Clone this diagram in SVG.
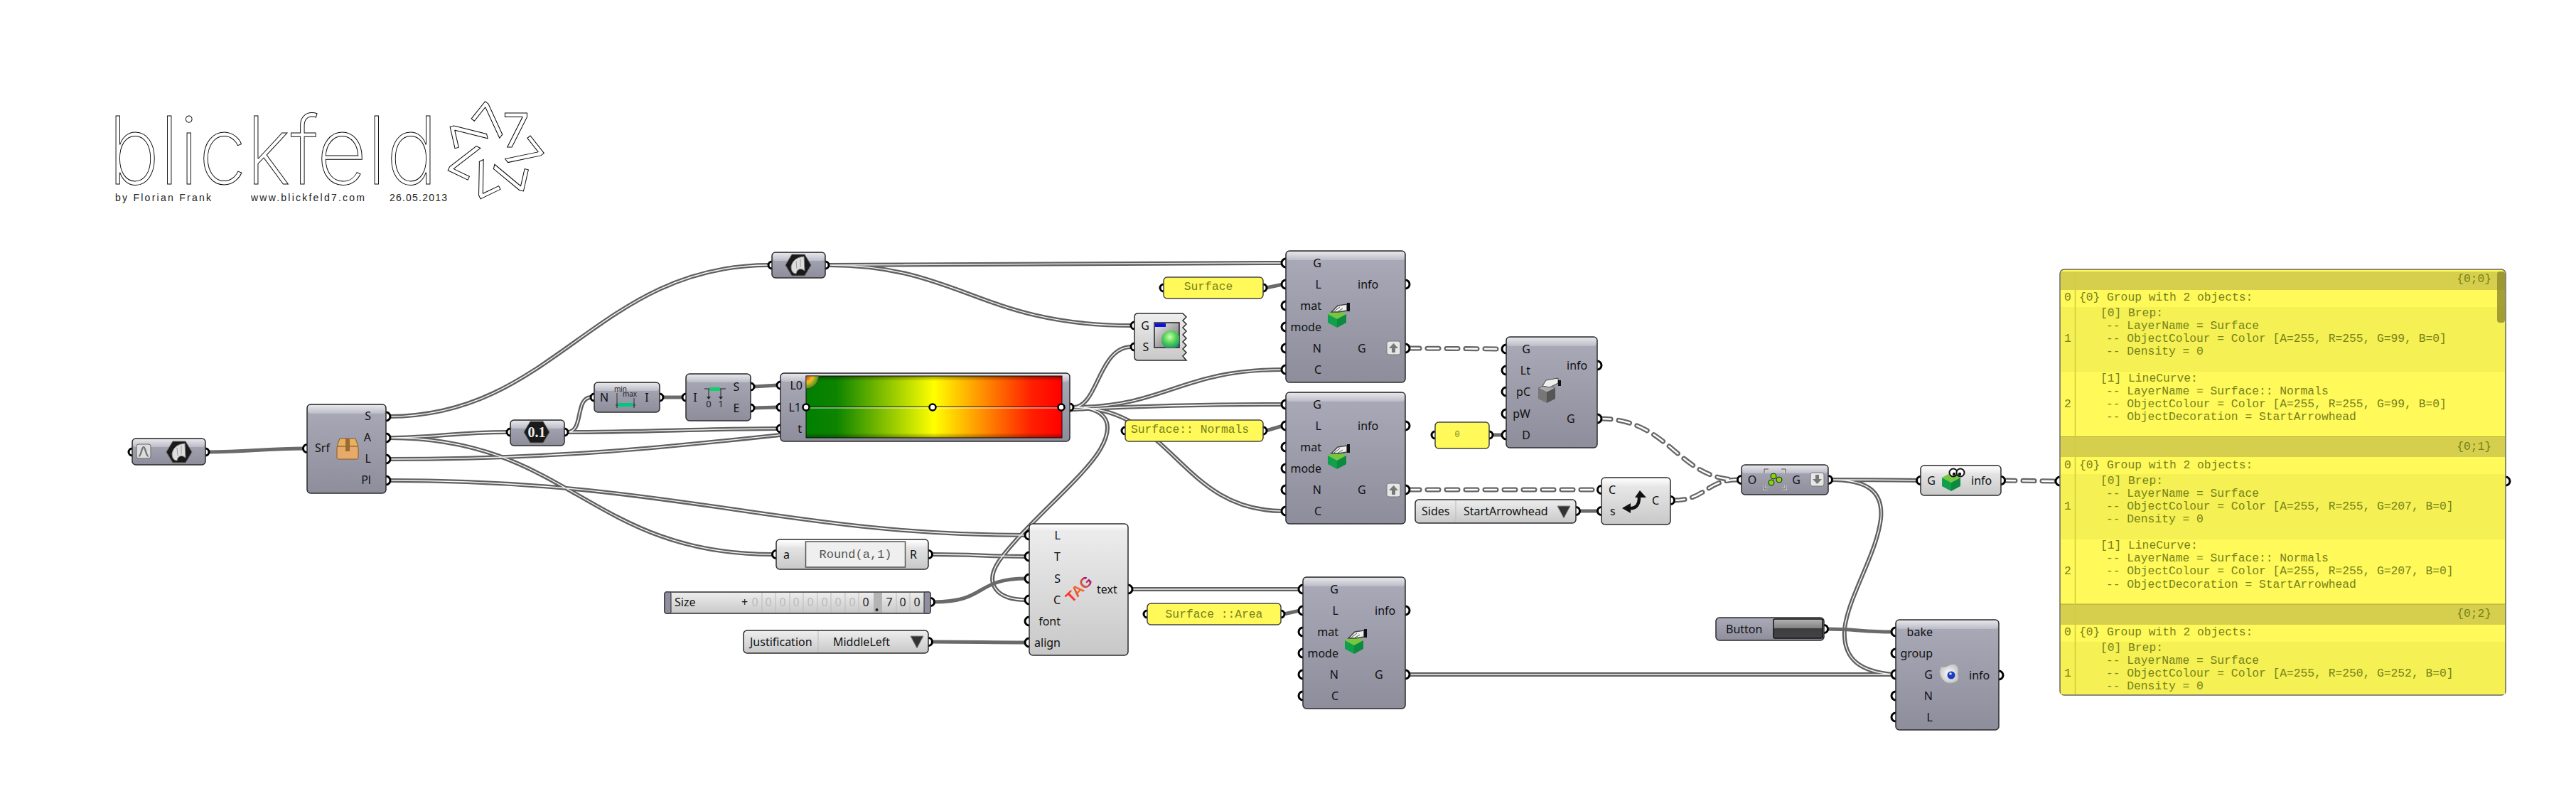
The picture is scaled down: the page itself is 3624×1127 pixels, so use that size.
<svg xmlns="http://www.w3.org/2000/svg" width="3624" height="1127" viewBox="0 0 3624 1127">
<style>
text{font-family:"Noto Sans","Liberation Sans",sans-serif}
.n{fill:url(#dk);stroke:#2c2c2c;stroke-width:1.5}
.l{fill:url(#lt);stroke:#2c2c2c;stroke-width:1.5}
.y{fill:#fff95a;stroke:#444;stroke-width:1.5}
.bd{fill:url(#bd)}
.bl{fill:url(#bl)}
.p{fill:#fff;stroke:#000;stroke-width:3}
.t{font-size:16px;fill:#111;text-anchor:end}
.s{font-size:16px;fill:#111}
.c{font-size:16px;fill:#111;text-anchor:middle}
.m{font-family:"Liberation Mono",monospace;font-size:16.3px;fill:#76821a}
.mm{font-family:"Liberation Mono",monospace;font-size:16.3px;fill:#76821a;text-anchor:middle}
.lg{font-family:Inter,"Liberation Sans",sans-serif;font-weight:200;fill:#fff;stroke:#000;stroke-width:1}
.sv{font-family:Inter,"Liberation Sans",sans-serif;font-weight:400;font-size:66px;fill:#fff;stroke:#000;stroke-width:1;text-anchor:middle}
.by{font-family:"Liberation Sans",sans-serif;font-size:14px;fill:#222}
.g0{font-size:16px;fill:#bbb;text-anchor:middle}
.g1{font-size:16px;fill:#222;text-anchor:middle}
.sep{stroke:#bbb;stroke-width:1}
#dbl,#sgl,#dsh{fill:none;stroke-linecap:butt}
</style>
<defs>
<linearGradient id="dk" x1="0" y1="0" x2="0" y2="1"><stop offset="0" stop-color="#aaaab8"/><stop offset="1" stop-color="#8d8d9b"/></linearGradient>
<linearGradient id="lt" x1="0" y1="0" x2="0" y2="1"><stop offset="0" stop-color="#eeeeee"/><stop offset="1" stop-color="#c8c8c8"/></linearGradient>
<linearGradient id="bd" x1="0" y1="0" x2="0" y2="1"><stop offset="0" stop-color="#e6e6ea"/><stop offset="1" stop-color="#bcbcc8"/></linearGradient>
<linearGradient id="bl" x1="0" y1="0" x2="0" y2="1"><stop offset="0" stop-color="#ffffff"/><stop offset="1" stop-color="#e8e8e8"/></linearGradient>
<linearGradient id="rg" x1="0" y1="0" x2="1" y2="0"><stop offset="0" stop-color="#007f00"/><stop offset=".12" stop-color="#0d8400"/><stop offset=".5" stop-color="#ffff00"/><stop offset=".88" stop-color="#ff2000"/><stop offset="1" stop-color="#ff0000"/></linearGradient>
<linearGradient id="vg" x1="0" y1="0" x2="0" y2="1"><stop offset="0" stop-color="#000" stop-opacity=".4"/><stop offset=".08" stop-color="#000" stop-opacity="0"/><stop offset=".92" stop-color="#000" stop-opacity="0"/><stop offset="1" stop-color="#000" stop-opacity=".35"/></linearGradient>
<linearGradient id="tg" x1="0" y1="0" x2="1" y2="0"><stop offset="0" stop-color="#ff2030"/><stop offset=".55" stop-color="#f07030"/><stop offset="1" stop-color="#a0107a"/></linearGradient>
<linearGradient id="btn" x1="0" y1="0" x2="0" y2="1"><stop offset="0" stop-color="#b4b4b4"/><stop offset=".5" stop-color="#808080"/><stop offset=".5" stop-color="#3c3c3c"/><stop offset="1" stop-color="#444"/></linearGradient>
<linearGradient id="win" x1="0" y1="0" x2="1" y2="1"><stop offset="0" stop-color="#eee"/><stop offset="1" stop-color="#666"/></linearGradient>
<radialGradient id="sph" cx=".45" cy=".35" r=".7"><stop offset="0" stop-color="#c8ffb0"/><stop offset=".5" stop-color="#50d050"/><stop offset="1" stop-color="#0a8a80"/></radialGradient>
<radialGradient id="qc" cx="0" cy="0" r="1"><stop offset="0" stop-color="#e03020"/><stop offset=".5" stop-color="#f0c020"/><stop offset="1" stop-color="#40901a"/></radialGradient>
<radialGradient id="egg" cx=".5" cy=".5" r=".5"><stop offset="0" stop-color="#fff"/><stop offset="1" stop-color="#c8c8c8"/></radialGradient>
<clipPath id="wc"><rect x="1624" y="454" width="35" height="35"/></clipPath>
<g id="hx"><polygon points="-18,0 -9,-15 9,-15 18,0 9,15 -9,15" fill="#1a1a1a" stroke="#666" stroke-width="1"/><path d="M-10,2 C-8,-6 -3,-11 8,-12 L9,8 C3,3 -2,6 -3,12 C-6,12 -10,10 -10,2 Z" fill="#dedede" stroke="#888"/><path d="M-3,-6 L-2,5 M3,-9 L3,3" stroke="#999" stroke-width="1"/></g>
<g id="cube"><polygon points="-13,-5 0,-12 13,-5 0,2" fill="#76c63e"/><polygon points="-13,-5 0,2 0,14 -13,7" fill="#10a04c"/><polygon points="0,2 13,-5 13,7 0,14" fill="#0b8a40"/></g>
<g id="hand"><path d="M-8,-8 L1,-17 L14,-19 L14,-10 L2,-8 Z" fill="#eee" stroke="#444" stroke-width="1.5"/><path d="M-4,-9 L4,-15 M0,-8 L8,-13" stroke="#555" stroke-width="1"/><rect x="14" y="-21" width="4" height="12" fill="#111"/></g>
<g id="up"><rect x="0" y="0" width="19" height="19" rx="3" fill="#e6e6e6" stroke="#777"/><path d="M9.5,3 L16,10 L12,10 L12,16 L7,16 L7,10 L3,10 Z" fill="#777"/></g>
<g id="down"><rect x="0" y="0" width="19" height="19" rx="3" fill="#e6e6e6" stroke="#777"/><path d="M9.5,16 L16,9 L12,9 L12,3 L7,3 L7,9 L3,9 Z" fill="#777"/></g>
<path id="w-dbl" d="M547 586C780 586 840 373 1082 373M547 616C610 616 640 608 714 608M547 616C800 616 830 780 1087 780M547 646C1050 646 1200 569 1805 569M547 676C950 676 1100 753 1444 753M798 608C822 608 808 559 832 559M798 608C900 608 1000 603 1094 603M1165 373C1400 373 1600 370 1805 370M1165 373C1350 373 1380 458 1592 458M1510 573C1545 573 1545 488 1592 488M1510 573C1640 573 1660 520 1805 520M1510 573C1650 573 1660 719 1805 719M1510 573C1550 573 1572 590 1548 632C1525 672 1440 740 1405 790C1385 820 1400 844 1444 844M1590 829L1829 829M1311 780C1370 780 1390 783 1444 783M2576 675C2620 675 2660 675 2698 676M2576 675C2625 675 2650 690 2646 730C2640 780 2600 840 2595 885C2592 930 2620 945 2663 949M1981 949L2663 949"/>
<path id="w-dsh" d="M1981 490L2115 491M1981 689L2249 689M2250 589C2350 589 2360 675 2445 675M2354 704C2400 704 2400 675 2445 675M2819 676L2893 677"/>
</defs>
<rect width="3624" height="1127" fill="#fff"/>

<g id="logo">
<text class="lg" x="152" y="259" font-size="132" textLength="464" lengthAdjust="spacingAndGlyphs">blickfeld</text>
<text class="sv" x="726" y="207" transform="rotate(0 695 212)">7</text>
<text class="sv" x="726" y="207" transform="rotate(51.43 695 212)">7</text>
<text class="sv" x="726" y="207" transform="rotate(102.86 695 212)">7</text>
<text class="sv" x="726" y="207" transform="rotate(154.29 695 212)">7</text>
<text class="sv" x="726" y="207" transform="rotate(205.71 695 212)">7</text>
<text class="sv" x="726" y="207" transform="rotate(257.14 695 212)">7</text>
<text class="sv" x="726" y="207" transform="rotate(308.57 695 212)">7</text>
<text class="by" x="162" y="283" textLength="135">by Florian Frank</text>
<text class="by" x="353" y="283" textLength="160">www.blickfeld7.com</text>
<text class="by" x="548" y="283" textLength="81">26.05.2013</text>
</g>

<g id="connectors">
<g id="dbl">
<use href="#w-dbl" stroke="#606060" stroke-width="6"/>
<use href="#w-dbl" stroke="#f4f4f4" stroke-width="1.4"/>
</g>
<g id="sgl" stroke="#6a6a6a" stroke-width="5">
<path d="M293 636C350 636 370 631 429 631"/>
<path d="M932 559L961 559"/>
<path d="M1060 544L1094 542"/>
<path d="M1060 574L1094 573"/>
<path d="M1781 405L1805 400"/>
<path d="M1781 606L1805 599"/>
<path d="M1806 864L1829 859"/>
<path d="M1313 847C1390 847 1370 814 1444 814"/>
<path d="M1311 903C1370 903 1390 904 1444 904"/>
<path d="M2098 612L2115 612"/>
<path d="M2221 719L2249 719"/>
<path d="M2570 885C2610 885 2620 889 2663 889"/>
</g>
<g id="dsh">
<use href="#w-dsh" stroke="#666" stroke-width="7" stroke-linecap="round" stroke-dasharray="16 11"/>
<use href="#w-dsh" stroke="#fff" stroke-width="2.4" stroke-linecap="round" stroke-dasharray="16 11"/>
</g>
</g>

<g id="param">
<circle class="p" cx="186" cy="636" r="5"/><circle class="p" cx="289" cy="636" r="5"/>
<rect class="n" x="186" y="617" width="103" height="37" rx="5"/><rect class="bd" x="187" y="618" width="101" height="11" rx="4"/>
<rect x="192" y="625" width="20" height="20" rx="3" fill="#ddd" stroke="#666"/><path d="M195,642 C199,642 199,629 202,629 C205,629 205,642 209,642" fill="none" stroke="#777" stroke-width="2.5"/>
<use href="#hx" x="252" y="636"/>
</g>

<g id="srf">
<circle class="p" cx="432" cy="631" r="5.5"/><circle class="p" cx="543" cy="586" r="6"/><circle class="p" cx="543" cy="616" r="6"/><circle class="p" cx="543" cy="646" r="6"/><circle class="p" cx="543" cy="676" r="6"/>
<rect class="n" x="432" y="569" width="111" height="125" rx="5"/><rect class="bd" x="433" y="570" width="109" height="12" rx="4"/>
<text class="s" x="443" y="636">Srf</text>
<text class="t" x="522" y="591">S</text><text class="t" x="522" y="621">A</text><text class="t" x="522" y="651">L</text><text class="t" x="522" y="681">Pl</text>
<path d="M474,628 L478,617 L500,617 L504,628 Z" fill="#e9b063" stroke="#8a5a20"/><rect x="474" y="628" width="30" height="18" rx="2" fill="#e6ab6b" stroke="#8a5a20"/><rect x="486" y="617" width="6" height="18" fill="#9a6a30"/>
</g>

<g id="num01">
<circle class="p" cx="718" cy="608" r="5"/><circle class="p" cx="794" cy="608" r="5"/>
<rect class="n" x="718" y="591" width="76" height="36" rx="5"/><rect class="bd" x="719" y="592" width="74" height="11" rx="4"/>
<polygon points="737,608 746,593 764,593 773,608 764,623 746,623" fill="#1a1a1a" stroke="#666"/>
<text x="755" y="615" text-anchor="middle" style="font-family:'Liberation Serif',serif;font-weight:bold;font-size:20px;fill:#eee">0.1</text>
</g>

<g id="hexTop">
<circle class="p" cx="1086" cy="373" r="5"/><circle class="p" cx="1161" cy="373" r="5"/>
<rect class="n" x="1086" y="355" width="75" height="36" rx="5"/><rect class="bd" x="1087" y="356" width="73" height="11" rx="4"/>
<use href="#hx" x="1123" y="373"/>
</g>

<g id="range">
<circle class="p" cx="836" cy="559" r="5"/><circle class="p" cx="928" cy="559" r="5"/>
<rect class="n" x="836" y="538" width="92" height="42" rx="5"/><rect class="bd" x="837" y="539" width="90" height="11" rx="4"/>
<text class="c" x="850" y="565">N</text><text class="c" x="910" y="565">I</text>
<text x="873" y="551" text-anchor="middle" font-size="10" fill="#222">min</text><text x="886" y="558" text-anchor="middle" font-size="10" fill="#222">max</text>
<path d="M868,553 V566 M892,560 V566" stroke="#333" stroke-width="1"/><path d="M866,570 H894 M868,566 V574 M892,566 V574" stroke="#222" stroke-width="1"/>
<rect x="869" y="567" width="22" height="5" fill="#00c880"/>
</g>

<g id="bounds">
<circle class="p" cx="965" cy="559" r="5"/><circle class="p" cx="1056" cy="544" r="5"/><circle class="p" cx="1056" cy="574" r="5"/>
<rect class="n" x="965" y="526" width="91" height="66" rx="5"/><rect class="bd" x="966" y="527" width="89" height="11" rx="4"/>
<text class="c" x="978" y="565">I</text><text class="c" x="1036" y="550">S</text><text class="c" x="1036" y="580">E</text>
<path d="M991,547 H1021 M997,547 V561 M1014,547 V561" stroke="#222" stroke-width="1"/><rect x="998" y="545" width="15" height="5" fill="#10d070"/>
<path d="M994,558 H1000 L997,562 Z M1011,558 H1017 L1014,562 Z" fill="#222"/>
<text x="997" y="573" text-anchor="middle" font-size="13" fill="#222">0</text><text x="1014" y="573" text-anchor="middle" font-size="13" fill="#222">1</text>
</g>

<g id="gradient">
<circle class="p" cx="1098" cy="542" r="5"/><circle class="p" cx="1098" cy="573" r="5"/><circle class="p" cx="1098" cy="603" r="5"/><circle class="p" cx="1505" cy="573" r="5"/>
<rect class="n" x="1098" y="525" width="407" height="96" rx="5"/><rect class="bd" x="1099" y="526" width="405" height="11" rx="4"/>
<rect x="1134" y="529" width="360" height="87" fill="url(#rg)" stroke="#111"/>
<rect x="1134" y="529" width="360" height="87" fill="url(#vg)"/>
<path d="M1134,529 H1152 A18,18 0 0 1 1134,547 Z" fill="url(#qc)" stroke="#444"/>
<text class="t" x="1129" y="548">L0</text><text class="t" x="1127" y="579">L1</text><text class="t" x="1128" y="609">t</text>
<path d="M1134,572 H1494" stroke="#222" stroke-width="1"/><path d="M1134,574 H1494" stroke="#fff" stroke-width="1" opacity=".8"/>
<circle cx="1134" cy="573" r="4.5" fill="#fff" stroke="#000" stroke-width="2.5"/><circle cx="1312" cy="573" r="4.5" fill="#fff" stroke="#000" stroke-width="2.5"/><circle cx="1493" cy="573" r="4.5" fill="#fff" stroke="#000" stroke-width="2.5"/>
</g>

<g id="preview">
<circle class="p" cx="1596" cy="458" r="5"/><circle class="p" cx="1596" cy="488" r="5"/>
<path class="l" d="M1601,441 H1664 L1669,446 L1664,451 L1669,456 L1664,461 L1669,466 L1664,471 L1669,476 L1664,481 L1669,486 L1664,491 L1669,496 L1664,501 L1669,507 H1601 Q1596,507 1596,502 V446 Q1596,441 1601,441 Z"/>
<text class="c" x="1611" y="464">G</text><text class="c" x="1612" y="494">S</text>
<rect x="1624" y="454" width="35" height="35" fill="url(#win)" stroke="#222" stroke-width="1.5"/><rect x="1625" y="455" width="15" height="5" fill="#1010e0"/>
<circle cx="1647" cy="478" r="13" fill="url(#sph)" clip-path="url(#wc)"/>
</g>

<g id="panelSurface">
<circle class="p" cx="1637" cy="405" r="5"/><circle class="p" cx="1777" cy="405" r="5"/>
<rect class="y" x="1637" y="390" width="140" height="30" rx="5"/>
<text class="mm" x="1700" y="408">Surface</text>
</g>
<g id="panelNormals">
<circle class="p" cx="1583" cy="606" r="5"/><circle class="p" cx="1777" cy="606" r="5"/>
<rect class="y" x="1583" y="591" width="194" height="30" rx="5"/>
<text class="mm" x="1674" y="609">Surface:: Normals</text>
</g>
<g id="panelArea">
<circle class="p" cx="1614" cy="864" r="5"/><circle class="p" cx="1802" cy="864" r="5"/>
<rect class="y" x="1614" y="849" width="188" height="30" rx="5"/>
<text class="mm" x="1708" y="869">Surface ::Area</text>
</g>
<g id="panelZero">
<circle class="p" cx="2019" cy="612" r="5"/><circle class="p" cx="2095" cy="612" r="5"/>
<rect class="y" x="2019" y="594" width="76" height="37" rx="5"/>
<text class="mm" x="2050" y="615" style="font-size:12px">0</text>
</g>

<g id="bake1">
<circle class="p" cx="1809" cy="370" r="6"/><circle class="p" cx="1809" cy="400" r="6"/><circle class="p" cx="1809" cy="430" r="6"/><circle class="p" cx="1809" cy="460" r="6"/><circle class="p" cx="1809" cy="490" r="6"/><circle class="p" cx="1809" cy="520" r="6"/><circle class="p" cx="1977" cy="400" r="6"/><circle class="p" cx="1977" cy="490" r="6"/>
<rect class="n" x="1809" y="353" width="168" height="185" rx="5"/><rect class="bd" x="1810" y="354" width="166" height="12" rx="4"/>
<text class="t" x="1859" y="376">G</text><text class="t" x="1859" y="406">L</text><text class="t" x="1859" y="436">mat</text><text class="t" x="1859" y="466">mode</text><text class="t" x="1859" y="496">N</text><text class="t" x="1859" y="526">C</text>
<text class="s" x="1910" y="406">info</text><text class="s" x="1910" y="496">G</text>
<use href="#cube" x="1881" y="447"/><use href="#hand" x="1881" y="447"/><use href="#up" x="1951" y="480"/>
</g>

<g id="bake2">
<circle class="p" cx="1809" cy="569" r="6"/><circle class="p" cx="1809" cy="599" r="6"/><circle class="p" cx="1809" cy="629" r="6"/><circle class="p" cx="1809" cy="659" r="6"/><circle class="p" cx="1809" cy="689" r="6"/><circle class="p" cx="1809" cy="719" r="6"/><circle class="p" cx="1977" cy="599" r="6"/><circle class="p" cx="1977" cy="689" r="6"/>
<rect class="n" x="1809" y="552" width="168" height="185" rx="5"/><rect class="bd" x="1810" y="553" width="166" height="12" rx="4"/>
<text class="t" x="1859" y="575">G</text><text class="t" x="1859" y="605">L</text><text class="t" x="1859" y="635">mat</text><text class="t" x="1859" y="665">mode</text><text class="t" x="1859" y="695">N</text><text class="t" x="1859" y="725">C</text>
<text class="s" x="1910" y="605">info</text><text class="s" x="1910" y="695">G</text>
<use href="#cube" x="1881" y="646"/><use href="#hand" x="1881" y="646"/><use href="#up" x="1951" y="680"/>
</g>

<g id="bake3">
<circle class="p" cx="1833" cy="829" r="6"/><circle class="p" cx="1833" cy="859" r="6"/><circle class="p" cx="1833" cy="889" r="6"/><circle class="p" cx="1833" cy="919" r="6"/><circle class="p" cx="1833" cy="949" r="6"/><circle class="p" cx="1833" cy="979" r="6"/><circle class="p" cx="1977" cy="859" r="6"/><circle class="p" cx="1977" cy="949" r="6"/>
<rect class="n" x="1833" y="812" width="144" height="185" rx="5"/><rect class="bd" x="1834" y="813" width="142" height="12" rx="4"/>
<text class="t" x="1883" y="835">G</text><text class="t" x="1883" y="865">L</text><text class="t" x="1883" y="895">mat</text><text class="t" x="1883" y="925">mode</text><text class="t" x="1883" y="955">N</text><text class="t" x="1883" y="985">C</text>
<text class="s" x="1934" y="865">info</text><text class="s" x="1934" y="955">G</text>
<use href="#cube" x="1905" y="906"/><use href="#hand" x="1905" y="906"/>
</g>

<g id="dash">
<circle class="p" cx="2119" cy="491" r="6"/><circle class="p" cx="2119" cy="521" r="6"/><circle class="p" cx="2119" cy="551" r="6"/><circle class="p" cx="2119" cy="582" r="6"/><circle class="p" cx="2119" cy="612" r="6"/><circle class="p" cx="2247" cy="514" r="6"/><circle class="p" cx="2247" cy="589" r="6"/>
<rect class="n" x="2119" y="474" width="128" height="156" rx="5"/><rect class="bd" x="2120" y="475" width="126" height="12" rx="4"/>
<text class="t" x="2153" y="497">G</text><text class="t" x="2153" y="527">Lt</text><text class="t" x="2153" y="557">pC</text><text class="t" x="2153" y="588">pW</text><text class="t" x="2153" y="618">D</text>
<text class="s" x="2204" y="520">info</text><text class="s" x="2204" y="595">G</text>
<polygon points="2164,546 2176,541 2188,546 2176,552" fill="#aaa" stroke="#666"/><polygon points="2164,546 2176,552 2176,567 2164,561" fill="#777"/><polygon points="2176,552 2188,546 2188,561 2176,567" fill="#555"/>
<path d="M2170,543 L2175,535 L2192,532 L2192,539 L2180,545 Z" fill="#eee" stroke="#444"/><rect x="2192" y="535" width="4" height="8" fill="#111"/>
</g>

<g id="arrowhead">
<circle class="p" cx="2253" cy="689" r="5.5"/><circle class="p" cx="2253" cy="719" r="5.5"/><circle class="p" cx="2350" cy="704" r="5.5"/>
<rect class="l" x="2253" y="672" width="97" height="66" rx="5"/><rect class="bl" x="2254" y="673" width="95" height="11" rx="4"/>
<text class="s" x="2263" y="695">C</text><text class="s" x="2265" y="725">s</text><text class="s" x="2324" y="710">C</text>
<path d="M2306,700 C2306,712 2300,716 2292,715" fill="none" stroke="#111" stroke-width="4.500"/>
<path d="M2300,700 L2307,690 L2316,700 Z M2294,708 L2282,715 L2294,722 Z" fill="#111"/>
</g>

<g id="sides">
<circle class="p" cx="2217" cy="719" r="5.5"/>
<rect class="l" x="1991" y="703" width="226" height="33" rx="5"/>
<path class="sep" d="M2048,704 V735"/>
<text class="s" x="2000" y="725">Sides</text><text class="s" x="2059" y="725">StartArrowhead</text>
<path d="M2191,712 H2209 L2200,729 Z" fill="#333" stroke="#888"/>
</g>

<g id="tag">
<circle class="p" cx="1448" cy="753" r="6"/><circle class="p" cx="1448" cy="783" r="6"/><circle class="p" cx="1448" cy="814" r="6"/><circle class="p" cx="1448" cy="844" r="6"/><circle class="p" cx="1448" cy="874" r="6"/><circle class="p" cx="1448" cy="904" r="6"/><circle class="p" cx="1587" cy="829" r="6"/>
<rect class="l" x="1448" y="737" width="139" height="185" rx="5"/><rect class="bl" x="1449" y="738" width="137" height="11" rx="4"/>
<text class="t" x="1492" y="759">L</text><text class="t" x="1492" y="789">T</text><text class="t" x="1492" y="820">S</text><text class="t" x="1492" y="850">C</text><text class="t" x="1492" y="880">font</text><text class="t" x="1492" y="910">align</text>
<text class="s" x="1543" y="835">text</text>
<text x="1518" y="836" text-anchor="middle" transform="rotate(-45 1518 829)" style="font-family:'Liberation Sans',sans-serif;font-weight:bold;font-size:21px;fill:url(#tg)">TAG</text>
</g>

<g id="expression">
<circle class="p" cx="1092" cy="780" r="5.5"/><circle class="p" cx="1306" cy="780" r="5.5"/>
<rect class="l" x="1092" y="759" width="214" height="42" rx="5"/><rect class="bl" x="1093" y="760" width="212" height="10" rx="4"/>
<rect x="1133.5" y="762" width="140" height="36" fill="#efefef" stroke="#555" stroke-width="1.5"/>
<text class="s" x="1102" y="786">a</text><text class="s" x="1280" y="786">R</text>
<text x="1203.5" y="785" text-anchor="middle" style="font-family:'Liberation Mono',monospace;font-size:17px;fill:#555">Round(a,1)</text>
</g>

<g id="slider">
<circle class="p" cx="1309" cy="847" r="5.5"/>
<rect class="l" x="935" y="833" width="374" height="30" rx="3"/>
<rect x="935" y="833" width="9" height="30" rx="2" fill="#8f8f9f" stroke="#2c2c2c"/><rect x="1300" y="833" width="9" height="30" rx="2" fill="#8f8f9f" stroke="#2c2c2c"/>
<rect x="1229" y="834" width="12" height="28" fill="#b4b4b4"/><circle cx="1233.5" cy="858" r="2" fill="#222"/>
<path class="sep" d="M1072,834V862M1091,834V862M1111,834V862M1130,834V862M1150,834V862M1169,834V862M1189,834V862M1208,834V862M1261,834V862M1280,834V862"/>
<text class="s" x="949" y="853">Size</text><text class="s" x="1043" y="853">+</text>
<text class="g0" x="1062" y="853">0</text><text class="g0" x="1081" y="853">0</text><text class="g0" x="1101" y="853">0</text><text class="g0" x="1120" y="853">0</text><text class="g0" x="1140" y="853">0</text><text class="g0" x="1160" y="853">0</text><text class="g0" x="1179" y="853">0</text><text class="g0" x="1199" y="853">0</text>
<text class="g1" x="1218" y="853">0</text><text class="g1" x="1251" y="853">7</text><text class="g1" x="1270" y="853">0</text><text class="g1" x="1290" y="853">0</text>
</g>

<g id="justification">
<circle class="p" cx="1306" cy="903" r="5.5"/>
<rect class="l" x="1046" y="887" width="260" height="32" rx="5"/>
<path class="sep" d="M1151,888 V918"/>
<text class="s" x="1055" y="909">Justification</text><text class="c" x="1212" y="909">MiddleLeft</text>
<path d="M1281,895 H1299 L1290,912 Z" fill="#333" stroke="#888"/>
</g>

<g id="group">
<circle class="p" cx="2450" cy="675" r="5.5"/><circle class="p" cx="2572" cy="675" r="5.5"/>
<rect class="n" x="2450" y="654" width="122" height="42" rx="5"/><rect class="bd" x="2451" y="655" width="120" height="11" rx="4"/>
<text class="c" x="2465" y="681">O</text><text class="c" x="2527" y="681">G</text>
<path d="M2482,666 V660 H2488 M2506,660 H2512 V666 M2482,682 V688 H2488 M2506,688 H2512 V682" fill="none" stroke="#ddd" stroke-width="3"/><path d="M2482,666 V660 H2488 M2506,660 H2512 V666 M2482,682 V688 H2488 M2506,688 H2512 V682" fill="none" stroke="#444" stroke-width="1"/>
<circle cx="2495" cy="670" r="4" fill="#80d800" stroke="#222"/><circle cx="2503" cy="675" r="4" fill="#80d800" stroke="#222"/><circle cx="2492" cy="679" r="4" fill="#80d800" stroke="#222"/>
<use href="#down" x="2547" y="665"/>
</g>

<g id="viewer">
<circle class="p" cx="2702" cy="676" r="5.5"/><circle class="p" cx="2815" cy="676" r="5.5"/>
<rect class="l" x="2702" y="655" width="113" height="42" rx="5"/><rect class="bl" x="2703" y="656" width="111" height="10" rx="4"/>
<text class="c" x="2717" y="682">G</text><text class="s" x="2773" y="682">info</text>
<use href="#cube" x="2745" y="677"/>
<circle cx="2748" cy="665" r="5.5" fill="#fff" stroke="#111" stroke-width="2"/><circle cx="2758" cy="665" r="5.5" fill="#fff" stroke="#111" stroke-width="2"/><circle cx="2749" cy="667" r="2.2" fill="#111"/><circle cx="2757" cy="667" r="2.2" fill="#111"/>
</g>

<g id="button">
<circle class="p" cx="2566" cy="885" r="5.5"/>
<rect class="n" x="2414" y="869" width="152" height="32" rx="5"/>
<text class="s" x="2428" y="891">Button</text>
<rect x="2495" y="871" width="69" height="27" rx="2" fill="url(#btn)" stroke="#111" stroke-width="1.5"/>
</g>

<g id="bake">
<circle class="p" cx="2667" cy="889" r="6"/><circle class="p" cx="2667" cy="919" r="6"/><circle class="p" cx="2667" cy="949" r="6"/><circle class="p" cx="2667" cy="979" r="6"/><circle class="p" cx="2667" cy="1009" r="6"/><circle class="p" cx="2812" cy="950" r="6"/>
<rect class="n" x="2667" y="872" width="145" height="155" rx="5"/><rect class="bd" x="2668" y="873" width="143" height="12" rx="4"/>
<text class="t" x="2719" y="895">bake</text><text class="t" x="2719" y="925">group</text><text class="t" x="2719" y="955">G</text><text class="t" x="2719" y="985">N</text><text class="t" x="2719" y="1015">L</text>
<text class="s" x="2770" y="956">info</text>
<path d="M2731,938 C2738,941 2744,932 2751,935 C2758,940 2753,948 2755,952 C2757,960 2744,963 2738,960 C2730,956 2726,945 2731,938 Z" fill="url(#egg)" stroke="#aaa"/>
<circle cx="2745" cy="950" r="5.5" fill="#1a3cc0"/><circle cx="2744" cy="948" r="1.8" fill="#cfe0ff"/>
</g>

<g id="panelOutput">
<circle class="p" cx="2898" cy="677" r="6"/><circle class="p" cx="3525" cy="677" r="6"/>
<rect x="2898" y="379" width="627" height="599" rx="6" fill="#fff95a" stroke="#666" stroke-width="1.5"/>
<rect x="2899" y="382" width="625" height="26" fill="#d6cf4d"/>
<rect x="2899" y="432" width="625" height="91" fill="#f5f053"/>
<rect x="2899" y="615" width="625" height="28" fill="#d6cf4d"/>
<rect x="2899" y="667" width="625" height="92" fill="#f5f053"/>
<rect x="2899" y="850" width="625" height="29" fill="#d6cf4d"/>
<rect x="2899" y="903" width="625" height="74" fill="#f5f053"/>
<path d="M2899,614.500 H3524 M2899,850 H3524" stroke="#b0aa3a"/>
<path d="M2919.500,382 V977" stroke="#d0cb3c" stroke-width="1.500"/>
<rect x="3513" y="382" width="11" height="72" rx="4" fill="#8f8a2a" opacity=".8"/>
<g>
<text class="m" x="3505" y="397" text-anchor="end">{0;0}</text>
<text class="mm" x="2909" y="423">0</text><text class="m" x="2925" y="423">{0} Group with 2 objects:</text>
<text class="m" x="2955" y="445">[0] Brep:</text>
<text class="m" x="2963" y="463">-- LayerName = Surface</text>
<text class="mm" x="2909" y="481">1</text><text class="m" x="2963" y="481">-- ObjectColour = Color [A=255, R=255, G=99, B=0]</text>
<text class="m" x="2963" y="499">-- Density = 0</text>
<text class="m" x="2955" y="537">[1] LineCurve:</text>
<text class="m" x="2963" y="555">-- LayerName = Surface:: Normals</text>
<text class="mm" x="2909" y="573">2</text><text class="m" x="2963" y="573">-- ObjectColour = Color [A=255, R=255, G=99, B=0]</text>
<text class="m" x="2963" y="591">-- ObjectDecoration = StartArrowhead</text>
<text class="m" x="3505" y="633" text-anchor="end">{0;1}</text>
<text class="mm" x="2909" y="659">0</text><text class="m" x="2925" y="659">{0} Group with 2 objects:</text>
<text class="m" x="2955" y="681">[0] Brep:</text>
<text class="m" x="2963" y="699">-- LayerName = Surface</text>
<text class="mm" x="2909" y="717">1</text><text class="m" x="2963" y="717">-- ObjectColour = Color [A=255, R=255, G=207, B=0]</text>
<text class="m" x="2963" y="735">-- Density = 0</text>
<text class="m" x="2955" y="772">[1] LineCurve:</text>
<text class="m" x="2963" y="790">-- LayerName = Surface:: Normals</text>
<text class="mm" x="2909" y="808">2</text><text class="m" x="2963" y="808">-- ObjectColour = Color [A=255, R=255, G=207, B=0]</text>
<text class="m" x="2963" y="827">-- ObjectDecoration = StartArrowhead</text>
<text class="m" x="3505" y="868" text-anchor="end">{0;2}</text>
<text class="mm" x="2909" y="894">0</text><text class="m" x="2925" y="894">{0} Group with 2 objects:</text>
<text class="m" x="2955" y="916">[0] Brep:</text>
<text class="m" x="2963" y="934">-- LayerName = Surface</text>
<text class="mm" x="2909" y="952">1</text><text class="m" x="2963" y="952">-- ObjectColour = Color [A=255, R=250, G=252, B=0]</text>
<text class="m" x="2963" y="970">-- Density = 0</text>
</g>
</g>
</svg>
